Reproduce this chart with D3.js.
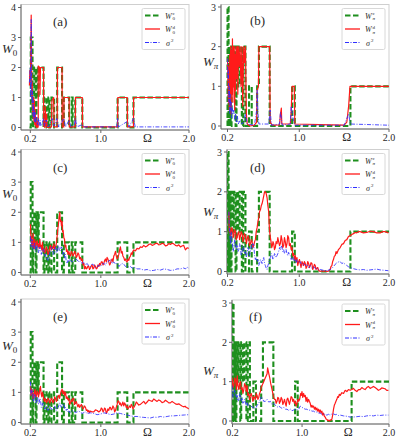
<!DOCTYPE html>
<html>
<head>
<meta charset="utf-8">
<script src="https://cdn.jsdelivr.net/npm/d3@7"></script>
<style>
  body { margin: 0; background: #fff; }
  svg { display: block; }
</style>
</head>
<body>
<div id="canvas"></div>
<script>
// ---- data : [Omega, value] ----
const xTicks = [0.2, 1.0, 2.0];
const xTickLabels = ["0.2", "1.0", "2.0"];
const yTicksLeft = [0, 1, 2, 3, 4];
const yTicksRight = [0, 1, 2, 3];

// W^c (same in every row of a column)
const greenLeft = [[0.19,0],[0.205,0],[0.205,3],[0.225,3],[0.225,0],[0.232,0],[0.232,1],[0.245,1],[0.245,2],[0.26,2],[0.26,0],[0.27,0],[0.27,2],[0.285,2],[0.285,1],[0.295,1],[0.295,2],[0.35,2],[0.35,0],[0.36,0],[0.36,1],[0.385,1],[0.385,0],[0.405,0],[0.405,1],[0.415,1],[0.415,0],[0.44,0],[0.44,1],[0.47,1],[0.47,0],[0.505,0],[0.505,2],[0.56,2],[0.56,0],[0.58,0],[0.58,1],[0.64,1],[0.64,0],[0.67,0],[0.67,1],[0.68,1],[0.68,0],[0.71,0],[0.71,1],[0.79,1],[0.79,0],[1.19,0],[1.19,1],[1.3,1],[1.3,0],[1.37,0],[1.37,1],[2.0,1]];
const greenRight = [[0.2,0],[0.2,3],[0.212,3],[0.212,0],[0.222,0],[0.222,2],[0.235,2],[0.235,0],[0.245,0],[0.245,2],[0.26,2],[0.26,1],[0.27,1],[0.27,2],[0.29,2],[0.29,0],[0.3,0],[0.3,2],[0.32,2],[0.32,1],[0.335,1],[0.335,2],[0.36,2],[0.36,0],[0.375,0],[0.375,2],[0.4,2],[0.4,0],[0.44,0],[0.44,1],[0.47,1],[0.47,0],[0.53,0],[0.53,1],[0.55,1],[0.55,2],[0.67,2],[0.67,0],[0.92,0],[0.92,1],[0.95,1],[0.95,0],[1.57,0],[1.57,1],[2.0,1]];

// (a)
const redA = [[0.19,1.4],[0.195,1.9],[0.2,1.5],[0.205,2.3],[0.21,3.75],[0.215,2.2],[0.218,1.0],[0.222,1.5],[0.226,0.5],[0.23,1.0],[0.234,0.3],[0.238,1.0],[0.242,0.2],[0.246,0.9],[0.25,0.1],[0.255,0.6],[0.26,0.05],[0.265,0.3],[0.27,0.0],[0.28,0.2],[0.285,0.0],[0.29,0.05],[0.29,2.05],[0.305,2.0],[0.31,1.1],[0.315,2.0],[0.35,2.0],[0.352,0.05],[0.365,0.0],[0.37,0.7],[0.375,0.05],[0.385,0.45],[0.39,0.0],[0.44,0.02],[0.445,0.9],[0.465,1.0],[0.47,0.02],[0.505,0.02],[0.508,2.0],[0.56,2.0],[0.562,0.02],[0.58,0.02],[0.582,1.0],[0.64,1.0],[0.642,0.02],[0.71,0.02],[0.712,1.0],[0.79,1.0],[0.792,0.02],[1.19,0.02],[1.192,1.0],[1.3,1.0],[1.302,0.02],[1.37,0.02],[1.372,1.0],[2.0,1.0]];
const blueA = [[0.19,1.5],[0.2,2.0],[0.205,1.0],[0.21,3.6],[0.215,1.5],[0.22,0.8],[0.225,1.2],[0.23,0.4],[0.235,0.9],[0.24,0.3],[0.245,0.6],[0.25,0.2],[0.255,0.5],[0.26,0.15],[0.27,0.35],[0.28,0.1],[0.29,0.3],[0.3,0.05],[0.31,0.25],[0.32,0.05],[0.33,0.1],[0.35,0.3],[0.36,0.05],[0.38,0.25],[0.4,0.02],[0.42,0.1],[0.45,0.3],[0.47,0.05],[0.5,0.3],[0.52,0.02],[0.56,0.2],[0.58,0.3],[0.6,0.02],[0.64,0.25],[0.66,0.02],[0.7,0.1],[0.71,0.3],[0.73,0.02],[0.79,0.1],[0.8,0.02],[1.18,0.02],[1.19,0.3],[1.2,0.02],[1.3,0.2],[1.32,0.02],[1.37,0.3],[1.39,0.02],[2.0,0.02]];

// (b)
const redB = [[0.2,1.7],[0.205,1.2],[0.21,0.6],[0.215,1.5],[0.22,0.4],[0.225,1.8],[0.23,0.5],[0.235,2.0],[0.24,0.3],[0.245,1.9],[0.25,0.8],[0.255,2.2],[0.26,0.6],[0.265,2.0],[0.27,1.0],[0.275,2.0],[0.28,0.4],[0.285,1.8],[0.29,0.9],[0.295,2.0],[0.3,1.2],[0.31,2.0],[0.315,0.8],[0.32,2.0],[0.33,1.5],[0.34,2.0],[0.35,1.0],[0.36,2.0],[0.37,0.5],[0.38,2.0],[0.39,1.6],[0.4,2.0],[0.41,0.3],[0.42,0.05],[0.45,0.0],[0.5,0.02],[0.525,0.1],[0.53,0.9],[0.545,1.0],[0.55,2.0],[0.67,2.0],[0.675,0.1],[0.7,0.02],[0.78,0.03],[0.79,0.3],[0.8,0.45],[0.805,0.05],[0.9,0.05],[0.91,0.4],[0.92,1.0],[0.945,1.0],[0.95,0.05],[1.5,0.02],[1.53,0.1],[1.55,0.5],[1.565,1.0],[2.0,1.0]];
const blueB = [[0.2,1.7],[0.205,1.2],[0.21,1.4],[0.215,0.6],[0.22,1.0],[0.225,0.3],[0.23,0.8],[0.235,0.4],[0.24,0.6],[0.245,0.2],[0.25,0.5],[0.26,0.3],[0.27,0.4],[0.28,0.15],[0.29,0.3],[0.3,0.1],[0.31,0.25],[0.32,0.05],[0.34,0.15],[0.36,0.05],[0.38,0.1],[0.4,0.3],[0.42,0.05],[0.5,0.02],[0.525,0.4],[0.53,0.9],[0.54,0.3],[0.55,0.05],[0.66,0.05],[0.675,0.4],[0.69,0.02],[0.78,0.05],[0.79,0.35],[0.8,0.2],[0.81,0.02],[0.9,0.05],[0.91,0.5],[0.93,0.2],[0.95,0.02],[1.5,0.02],[1.55,0.3],[1.57,0.05],[2.0,0.02]];

// (c)
const redC = [[0.202,1.6],[0.207,1.1],[0.213,1.2],[0.217,0.9],[0.221,1.05],[0.226,0.85],[0.232,1.3],[0.236,0.9],[0.24,0.95],[0.245,0.8],[0.251,1.1],[0.257,0.85],[0.263,0.9],[0.27,1.0],[0.278,1.05],[0.285,0.85],[0.293,0.95],[0.3,0.8],[0.308,1.1],[0.315,0.85],[0.323,0.9],[0.33,0.75],[0.338,1.0],[0.345,0.7],[0.353,0.8],[0.362,0.65],[0.372,0.7],[0.381,0.85],[0.391,0.75],[0.4,0.6],[0.41,0.65],[0.42,0.85],[0.429,0.9],[0.438,0.75],[0.448,0.85],[0.457,0.8],[0.467,0.95],[0.476,0.75],[0.485,0.85],[0.495,0.95],[0.504,1.2],[0.512,1.45],[0.519,1.6],[0.527,1.85],[0.535,2.0],[0.54,1.7],[0.546,1.75],[0.553,1.55],[0.561,1.7],[0.566,1.35],[0.572,1.4],[0.58,1.15],[0.588,1.1],[0.595,0.85],[0.603,0.9],[0.61,0.7],[0.618,0.75],[0.627,0.6],[0.637,0.7],[0.646,0.6],[0.656,0.55],[0.665,0.7],[0.674,0.65],[0.683,0.55],[0.693,0.6],[0.702,0.7],[0.712,0.65],[0.721,0.5],[0.731,0.55],[0.74,0.65],[0.75,0.6],[0.76,0.45],[0.769,0.5],[0.778,0.4],[0.788,0.45],[0.797,0.25],[0.807,0.3],[0.816,0.12],[0.826,0.2],[0.835,0.12],[0.845,0.15],[0.854,0.22],[0.863,0.2],[0.872,0.1],[0.882,0.15],[0.891,0.22],[0.901,0.25],[0.91,0.12],[0.92,0.15],[0.929,0.25],[0.939,0.2],[0.948,0.12],[0.958,0.15],[0.967,0.25],[0.977,0.2],[0.986,0.3],[0.996,0.25],[1.005,0.35],[1.015,0.35],[1.025,0.25],[1.034,0.3],[1.043,0.4],[1.052,0.45],[1.062,0.35],[1.071,0.5],[1.08,0.45],[1.09,0.35],[1.1,0.25],[1.109,0.3],[1.118,0.4],[1.128,0.45],[1.137,0.35],[1.147,0.55],[1.156,0.6],[1.166,0.7],[1.175,0.55],[1.185,0.45],[1.194,0.5],[1.204,0.6],[1.213,0.75],[1.222,0.85],[1.232,0.65],[1.241,0.7],[1.25,0.55],[1.26,0.5],[1.27,0.4],[1.279,0.45],[1.288,0.38],[1.298,0.35],[1.307,0.45],[1.317,0.4],[1.326,0.5],[1.336,0.55],[1.345,0.65],[1.355,0.6],[1.364,0.7],[1.374,0.75],[1.392,0.72],[1.411,0.8],[1.43,0.78],[1.449,0.85],[1.468,0.83],[1.487,0.9],[1.506,0.85],[1.525,0.88],[1.544,0.93],[1.563,0.95],[1.582,0.9],[1.6,0.92],[1.619,0.96],[1.638,0.97],[1.657,0.92],[1.676,0.93],[1.695,0.97],[1.714,0.95],[1.733,0.88],[1.752,0.9],[1.77,0.96],[1.789,0.93],[1.808,0.97],[1.827,0.95],[1.846,0.9],[1.865,0.88],[1.884,0.92],[1.903,0.85],[1.92,0.88],[1.94,0.9],[1.959,0.75],[1.978,0.82],[1.997,0.8]];
const blueC = [[0.202,1.2],[0.207,0.85],[0.213,0.9],[0.219,1.1],[0.225,1.0],[0.232,0.75],[0.24,0.8],[0.247,1.0],[0.255,0.95],[0.262,0.7],[0.27,0.75],[0.278,0.9],[0.285,0.85],[0.292,0.65],[0.3,0.7],[0.308,0.85],[0.315,0.8],[0.325,0.6],[0.334,0.7],[0.343,0.8],[0.353,0.75],[0.362,0.55],[0.372,0.6],[0.381,0.45],[0.391,0.5],[0.4,0.4],[0.41,0.45],[0.42,0.65],[0.429,0.7],[0.438,0.85],[0.448,0.8],[0.457,0.6],[0.467,0.65],[0.476,0.8],[0.485,0.85],[0.495,0.65],[0.504,0.7],[0.513,0.9],[0.523,0.85],[0.532,0.7],[0.542,0.75],[0.551,0.85],[0.561,0.8],[0.57,0.6],[0.58,0.7],[0.59,0.5],[0.599,0.6],[0.608,0.35],[0.618,0.3],[0.627,0.4],[0.637,0.35],[0.646,0.45],[0.656,0.4],[0.674,0.35],[0.693,0.38],[0.712,0.45],[0.731,0.42],[0.75,0.35],[0.769,0.38],[0.788,0.3],[0.807,0.35],[0.826,0.25],[0.845,0.3],[0.863,0.22],[0.882,0.2],[0.901,0.28],[0.92,0.25],[0.939,0.15],[0.958,0.18],[0.977,0.25],[0.996,0.2],[1.015,0.28],[1.034,0.3],[1.052,0.25],[1.071,0.35],[1.09,0.38],[1.109,0.42],[1.128,0.3],[1.147,0.35],[1.166,0.28],[1.185,0.3],[1.204,0.2],[1.222,0.25],[1.241,0.3],[1.26,0.28],[1.279,0.2],[1.298,0.22],[1.317,0.18],[1.336,0.2],[1.355,0.14],[1.374,0.18],[1.411,0.12],[1.449,0.12],[1.487,0.08],[1.525,0.1],[1.563,0.06],[1.6,0.07],[1.638,0.1],[1.676,0.08],[1.714,0.12],[1.752,0.1],[1.789,0.07],[1.827,0.08],[1.865,0.12],[1.903,0.12],[1.94,0.15],[1.96,0.12],[1.978,0.18],[1.997,0.14]];

// (d)
const redD = [[0.215,1.5],[0.22,1.0],[0.226,1.1],[0.233,0.9],[0.241,1.0],[0.248,1.1],[0.256,1.05],[0.263,0.85],[0.27,0.9],[0.28,1.05],[0.289,1.0],[0.298,0.8],[0.307,0.85],[0.316,0.95],[0.326,1.0],[0.335,0.8],[0.344,0.9],[0.353,1.0],[0.363,0.95],[0.372,0.75],[0.381,0.85],[0.39,0.95],[0.4,0.9],[0.41,0.7],[0.419,0.8],[0.428,0.9],[0.437,0.85],[0.446,0.65],[0.456,0.7],[0.465,0.8],[0.474,0.75],[0.483,0.6],[0.493,0.65],[0.502,0.75],[0.511,0.8],[0.52,1.0],[0.53,1.1],[0.539,1.25],[0.548,1.35],[0.557,1.5],[0.567,1.55],[0.576,1.65],[0.585,1.7],[0.595,1.8],[0.604,1.9],[0.613,2.0],[0.622,2.0],[0.632,1.95],[0.641,1.85],[0.65,1.65],[0.659,1.5],[0.664,1.2],[0.67,1.0],[0.678,0.85],[0.685,0.75],[0.693,0.6],[0.7,0.65],[0.707,0.75],[0.715,0.7],[0.724,0.55],[0.733,0.6],[0.742,0.75],[0.752,0.7],[0.761,0.85],[0.77,0.75],[0.78,0.65],[0.789,0.7],[0.798,0.9],[0.807,0.8],[0.816,0.6],[0.826,0.65],[0.835,0.85],[0.844,0.75],[0.853,0.6],[0.863,0.7],[0.872,0.9],[0.881,0.85],[0.89,0.65],[0.9,0.7],[0.91,0.55],[0.919,0.6],[0.928,0.4],[0.937,0.45],[0.946,0.3],[0.956,0.4],[0.965,0.25],[0.974,0.35],[0.983,0.15],[0.993,0.25],[1.002,0.3],[1.011,0.2],[1.02,0.1],[1.03,0.25],[1.039,0.2],[1.048,0.15],[1.057,0.25],[1.067,0.2],[1.076,0.08],[1.085,0.12],[1.094,0.25],[1.104,0.2],[1.113,0.1],[1.122,0.15],[1.131,0.22],[1.141,0.2],[1.15,0.05],[1.159,0.1],[1.169,0.18],[1.178,0.15],[1.187,0.05],[1.196,0.08],[1.205,0.1],[1.215,0.03],[1.233,0.0],[1.252,0.02],[1.27,0.0],[1.289,0.02],[1.307,0.0],[1.326,0.01],[1.344,0.05],[1.353,0.12],[1.363,0.15],[1.372,0.25],[1.381,0.3],[1.39,0.38],[1.4,0.4],[1.41,0.5],[1.419,0.45],[1.437,0.55],[1.456,0.6],[1.474,0.68],[1.493,0.7],[1.511,0.78],[1.53,0.8],[1.548,0.88],[1.567,0.9],[1.585,0.93],[1.604,0.95],[1.623,0.98],[1.641,0.97],[1.66,1.0],[1.678,1.0],[1.715,0.97],[1.752,0.98],[1.789,1.01],[1.826,1.0],[1.863,0.97],[1.9,0.97],[1.93,1.0],[1.956,1.0],[1.993,0.97]];
const blueD = [[0.215,1.5],[0.22,1.1],[0.226,0.9],[0.233,0.7],[0.241,1.0],[0.248,0.75],[0.256,0.7],[0.263,0.5],[0.27,0.6],[0.28,0.8],[0.289,0.75],[0.298,0.55],[0.307,0.65],[0.316,0.5],[0.326,0.55],[0.335,0.7],[0.344,0.6],[0.353,0.4],[0.363,0.5],[0.372,0.65],[0.381,0.6],[0.39,0.45],[0.4,0.5],[0.41,0.35],[0.419,0.45],[0.428,0.6],[0.437,0.55],[0.446,0.4],[0.456,0.5],[0.465,0.65],[0.474,0.6],[0.483,0.7],[0.493,0.65],[0.502,0.4],[0.511,0.3],[0.52,0.35],[0.53,0.25],[0.539,0.3],[0.548,0.15],[0.557,0.2],[0.567,0.3],[0.576,0.25],[0.585,0.2],[0.595,0.3],[0.604,0.35],[0.613,0.2],[0.622,0.15],[0.632,0.08],[0.641,0.05],[0.65,0.15],[0.659,0.2],[0.668,0.3],[0.678,0.35],[0.687,0.45],[0.696,0.4],[0.706,0.3],[0.715,0.35],[0.724,0.45],[0.733,0.42],[0.742,0.35],[0.752,0.4],[0.761,0.45],[0.77,0.5],[0.78,0.6],[0.789,0.55],[0.798,0.65],[0.807,0.6],[0.816,0.5],[0.826,0.55],[0.835,0.45],[0.844,0.5],[0.853,0.55],[0.863,0.45],[0.872,0.4],[0.881,0.48],[0.89,0.42],[0.9,0.4],[0.91,0.3],[0.919,0.35],[0.928,0.3],[0.937,0.35],[0.946,0.25],[0.956,0.28],[0.965,0.22],[0.974,0.3],[0.993,0.22],[1.011,0.25],[1.03,0.15],[1.048,0.2],[1.067,0.15],[1.085,0.18],[1.104,0.1],[1.122,0.15],[1.141,0.08],[1.159,0.12],[1.178,0.08],[1.196,0.08],[1.215,0.04],[1.233,0.05],[1.27,0.03],[1.307,0.02],[1.344,0.05],[1.363,0.08],[1.381,0.12],[1.4,0.18],[1.419,0.22],[1.437,0.24],[1.456,0.25],[1.474,0.2],[1.493,0.22],[1.511,0.18],[1.53,0.15],[1.548,0.12],[1.567,0.1],[1.604,0.07],[1.641,0.05],[1.678,0.04],[1.715,0.05],[1.752,0.03],[1.789,0.04],[1.826,0.05],[1.863,0.06],[1.9,0.04],[1.95,0.03],[1.993,0.02]];

// (e)
const redE = [[0.202,1.2],[0.207,0.9],[0.213,0.95],[0.219,1.1],[0.225,1.0],[0.232,0.8],[0.24,0.85],[0.247,1.0],[0.255,1.1],[0.262,0.85],[0.27,0.9],[0.278,1.05],[0.285,1.0],[0.292,0.85],[0.3,0.95],[0.308,1.1],[0.315,1.2],[0.323,0.95],[0.331,0.85],[0.338,1.0],[0.346,0.9],[0.353,0.75],[0.361,0.7],[0.368,0.8],[0.376,0.75],[0.383,0.65],[0.391,0.7],[0.4,0.8],[0.41,0.75],[0.42,0.65],[0.429,0.7],[0.438,0.8],[0.448,0.75],[0.457,0.65],[0.467,0.7],[0.476,0.85],[0.485,0.8],[0.495,0.7],[0.504,0.75],[0.513,0.85],[0.523,0.9],[0.532,0.8],[0.542,0.95],[0.551,1.05],[0.561,1.1],[0.57,0.95],[0.58,1.05],[0.59,0.9],[0.599,1.0],[0.608,0.8],[0.618,0.85],[0.627,0.75],[0.637,0.8],[0.646,0.6],[0.656,0.65],[0.665,0.75],[0.674,0.7],[0.683,0.8],[0.693,0.8],[0.702,0.6],[0.712,0.65],[0.721,0.7],[0.731,0.6],[0.74,0.52],[0.75,0.6],[0.76,0.5],[0.769,0.55],[0.778,0.6],[0.788,0.55],[0.797,0.45],[0.807,0.5],[0.816,0.55],[0.826,0.5],[0.835,0.4],[0.845,0.42],[0.854,0.35],[0.863,0.4],[0.872,0.33],[0.882,0.38],[0.901,0.35],[0.92,0.35],[0.939,0.42],[0.958,0.4],[0.977,0.35],[0.996,0.4],[1.005,0.48],[1.015,0.45],[1.025,0.35],[1.034,0.4],[1.043,0.48],[1.052,0.45],[1.062,0.3],[1.071,0.35],[1.08,0.45],[1.09,0.4],[1.1,0.5],[1.109,0.5],[1.118,0.42],[1.128,0.45],[1.137,0.55],[1.147,0.5],[1.156,0.35],[1.166,0.4],[1.175,0.5],[1.185,0.6],[1.194,0.72],[1.204,0.7],[1.213,0.6],[1.222,0.65],[1.232,0.55],[1.241,0.6],[1.25,0.68],[1.26,0.55],[1.27,0.65],[1.279,0.6],[1.288,0.5],[1.298,0.55],[1.307,0.45],[1.317,0.5],[1.326,0.55],[1.336,0.5],[1.345,0.6],[1.355,0.55],[1.364,0.45],[1.374,0.5],[1.383,0.55],[1.392,0.6],[1.402,0.68],[1.411,0.65],[1.43,0.58],[1.449,0.6],[1.468,0.65],[1.487,0.7],[1.506,0.62],[1.525,0.68],[1.544,0.75],[1.563,0.72],[1.582,0.7],[1.6,0.78],[1.619,0.74],[1.638,0.7],[1.657,0.75],[1.676,0.72],[1.695,0.66],[1.714,0.68],[1.733,0.74],[1.752,0.7],[1.77,0.65],[1.789,0.65],[1.808,0.7],[1.827,0.66],[1.846,0.62],[1.865,0.6],[1.884,0.62],[1.903,0.58],[1.92,0.55],[1.94,0.52],[1.955,0.54],[1.97,0.5],[1.985,0.48],[1.997,0.45]];
const blueE = [[0.202,1.35],[0.207,0.9],[0.213,0.95],[0.219,1.1],[0.225,1.05],[0.232,0.7],[0.24,0.75],[0.247,0.95],[0.255,0.9],[0.262,0.65],[0.27,0.7],[0.278,0.85],[0.285,0.8],[0.292,0.6],[0.3,0.65],[0.308,0.8],[0.315,0.75],[0.325,0.5],[0.334,0.55],[0.343,0.65],[0.353,0.6],[0.362,0.45],[0.372,0.45],[0.381,0.55],[0.391,0.5],[0.4,0.4],[0.41,0.45],[0.42,0.55],[0.429,0.5],[0.448,0.42],[0.467,0.45],[0.476,0.55],[0.485,0.5],[0.495,0.4],[0.504,0.45],[0.513,0.5],[0.523,0.55],[0.532,0.65],[0.542,0.6],[0.551,0.5],[0.561,0.55],[0.57,0.62],[0.58,0.6],[0.59,0.45],[0.599,0.5],[0.608,0.4],[0.618,0.45],[0.627,0.35],[0.637,0.4],[0.646,0.32],[0.656,0.35],[0.674,0.4],[0.693,0.37],[0.712,0.33],[0.731,0.35],[0.75,0.38],[0.769,0.34],[0.788,0.3],[0.807,0.33],[0.826,0.35],[0.845,0.3],[0.882,0.32],[0.92,0.3],[0.958,0.26],[0.996,0.28],[1.034,0.32],[1.071,0.3],[1.109,0.26],[1.147,0.28],[1.185,0.32],[1.222,0.3],[1.26,0.27],[1.298,0.25],[1.336,0.22],[1.374,0.2],[1.411,0.2],[1.449,0.18],[1.487,0.17],[1.525,0.16],[1.563,0.15],[1.6,0.18],[1.638,0.17],[1.676,0.2],[1.714,0.18],[1.752,0.2],[1.789,0.22],[1.827,0.22],[1.865,0.23],[1.903,0.24],[1.95,0.25],[1.997,0.26]];

// (f)
const redF = [[0.196,1.1],[0.205,0.85],[0.215,0.9],[0.225,1.1],[0.235,1.05],[0.245,0.8],[0.254,1.15],[0.263,0.9],[0.273,0.8],[0.282,0.95],[0.292,1.0],[0.301,0.8],[0.311,0.85],[0.32,0.7],[0.33,0.8],[0.339,0.95],[0.349,0.9],[0.358,0.75],[0.368,0.9],[0.377,0.65],[0.387,0.7],[0.396,0.55],[0.406,0.65],[0.416,0.7],[0.426,0.6],[0.435,0.5],[0.445,0.62],[0.454,0.6],[0.464,0.55],[0.473,0.7],[0.483,0.65],[0.492,0.55],[0.502,0.6],[0.511,0.7],[0.521,0.75],[0.53,0.85],[0.54,0.9],[0.549,0.95],[0.559,1.0],[0.568,1.05],[0.578,1.1],[0.588,1.15],[0.598,1.2],[0.604,1.35],[0.609,1.3],[0.618,1.2],[0.628,1.1],[0.64,0.95],[0.655,0.8],[0.664,0.7],[0.674,0.6],[0.683,0.55],[0.693,0.55],[0.702,0.45],[0.712,0.5],[0.721,0.6],[0.731,0.58],[0.74,0.45],[0.75,0.5],[0.76,0.6],[0.77,0.55],[0.779,0.42],[0.789,0.48],[0.798,0.55],[0.808,0.45],[0.817,0.38],[0.827,0.55],[0.836,0.58],[0.846,0.5],[0.855,0.42],[0.865,0.52],[0.874,0.62],[0.884,0.6],[0.893,0.5],[0.903,0.55],[0.912,0.45],[0.922,0.5],[0.932,0.38],[0.942,0.45],[0.951,0.55],[0.961,0.5],[0.972,0.55],[0.985,0.7],[0.992,0.65],[0.999,0.75],[1.008,0.6],[1.018,0.7],[1.027,0.62],[1.037,0.65],[1.046,0.5],[1.056,0.6],[1.065,0.48],[1.075,0.55],[1.084,0.5],[1.094,0.45],[1.104,0.35],[1.114,0.4],[1.123,0.35],[1.133,0.38],[1.142,0.3],[1.152,0.35],[1.161,0.28],[1.171,0.33],[1.18,0.25],[1.19,0.3],[1.2,0.22],[1.209,0.28],[1.219,0.2],[1.228,0.25],[1.238,0.15],[1.247,0.2],[1.257,0.12],[1.266,0.1],[1.276,0.05],[1.286,0.04],[1.295,0.01],[1.305,0.02],[1.314,0.0],[1.324,0.03],[1.333,0.02],[1.343,0.05],[1.352,0.15],[1.362,0.3],[1.371,0.4],[1.381,0.45],[1.39,0.5],[1.4,0.55],[1.41,0.62],[1.419,0.6],[1.429,0.68],[1.439,0.65],[1.458,0.72],[1.477,0.7],[1.496,0.78],[1.515,0.75],[1.534,0.8],[1.553,0.78],[1.572,0.8],[1.591,0.83],[1.61,0.78],[1.63,0.75],[1.649,0.8],[1.668,0.8],[1.687,0.85],[1.706,0.82],[1.725,0.8],[1.744,0.85],[1.763,0.88],[1.783,0.83],[1.802,0.85],[1.821,0.88],[1.84,0.85],[1.859,0.82],[1.878,0.78],[1.897,0.8],[1.916,0.84],[1.936,0.83],[1.955,0.82],[1.974,0.78],[1.993,0.78]];
const blueF = [[0.196,0.9],[0.205,0.6],[0.215,0.65],[0.225,0.8],[0.234,0.75],[0.245,0.55],[0.254,0.65],[0.263,0.5],[0.273,0.55],[0.282,0.7],[0.292,0.6],[0.301,0.5],[0.311,0.6],[0.32,0.45],[0.33,0.5],[0.339,0.55],[0.349,0.45],[0.358,0.4],[0.368,0.48],[0.377,0.38],[0.387,0.42],[0.406,0.4],[0.426,0.35],[0.445,0.35],[0.464,0.3],[0.483,0.4],[0.502,0.45],[0.511,0.5],[0.521,0.55],[0.53,0.62],[0.54,0.6],[0.559,0.5],[0.578,0.5],[0.598,0.55],[0.617,0.48],[0.636,0.5],[0.655,0.42],[0.674,0.45],[0.693,0.4],[0.712,0.35],[0.731,0.38],[0.75,0.35],[0.77,0.32],[0.789,0.35],[0.808,0.3],[0.827,0.3],[0.846,0.27],[0.865,0.3],[0.884,0.26],[0.903,0.28],[0.922,0.3],[0.942,0.28],[0.961,0.3],[0.98,0.38],[0.999,0.35],[1.018,0.32],[1.037,0.3],[1.056,0.3],[1.075,0.27],[1.094,0.28],[1.114,0.25],[1.133,0.25],[1.152,0.22],[1.171,0.23],[1.19,0.2],[1.209,0.2],[1.228,0.17],[1.247,0.18],[1.266,0.16],[1.286,0.15],[1.305,0.17],[1.324,0.15],[1.343,0.18],[1.362,0.18],[1.381,0.16],[1.4,0.17],[1.419,0.14],[1.439,0.15],[1.477,0.13],[1.515,0.12],[1.553,0.1],[1.591,0.1],[1.63,0.11],[1.668,0.12],[1.706,0.11],[1.744,0.13],[1.783,0.14],[1.821,0.13],[1.859,0.15],[1.897,0.14],[1.936,0.15],[1.993,0.15]];

// ---- layout (pixel placement of each panel) ----
const panels = [
  {tag:"(a)", sub:"0", x0:21,  x1:189, xdom:[0.1,2.0],   top:4.5, bot:130, y0:127.5, yt:7.5, ymax:4, green:greenLeft,  red:redA, blue:blueA, ylab:[2,53],   tagPos:[53,26]},
  {tag:"(b)", sub:"π", x0:221, x1:389, xdom:[0.133,2.0], top:4.5, bot:129, y0:126,   yt:7,   ymax:3, green:greenRight, red:redB, blue:blueB, ylab:[203,66], tagPos:[250,25]},
  {tag:"(c)", sub:"0", x0:21,  x1:189, xdom:[0.1,2.0],   top:149.5, bot:275, y0:272.5, yt:152, ymax:4, green:greenLeft,  red:redC, blue:blueC, ylab:[2,198], tagPos:[53,172]},
  {tag:"(d)", sub:"π", x0:227, x1:389, xdom:[0.2,2.0],   top:149.5, bot:274, y0:271.5, yt:152, ymax:3, green:greenRight, red:redD, blue:blueD, ylab:[203,216], tagPos:[250,172]},
  {tag:"(e)", sub:"0", x0:21,  x1:189, xdom:[0.1,2.0],   top:299, bot:424, y0:422.5, yt:302, ymax:4, green:greenLeft,  red:redE, blue:blueE, ylab:[2,350], tagPos:[53,321]},
  {tag:"(f)", sub:"π", x0:232, x1:389, xdom:[0.2,2.0],   top:300, bot:424, y0:421,   yt:303, ymax:3, green:greenRight, red:redF, blue:blueF, ylab:[203,375], tagPos:[249,321]}
];

const SERIF = "'Liberation Serif', 'DejaVu Serif', serif";
const W = 399, H = 442;
const svg = d3.select("#canvas").append("svg").attr("width", W).attr("height", H)
  .attr("font-family", SERIF);
const defs = svg.append("defs");

function txt(sel, x, y, size){
  return sel.append("text").attr("x", x).attr("y", y)
    .attr("font-family", SERIF).attr("font-size", size).attr("fill", "#2a2a2a");
}

panels.forEach(function(p, i){
  const x = d3.scaleLinear().domain(p.xdom).range([p.x0 + 0.5, p.x1]);
  const yTicks = p.ymax === 4 ? yTicksLeft : yTicksRight;
  const y = d3.scaleLinear().domain([0, p.ymax]).range([p.y0, p.yt]);

  defs.append("clipPath").attr("id", "clip" + i)
    .append("rect").attr("x", p.x0).attr("y", p.top).attr("width", p.x1 - p.x0).attr("height", p.bot - p.top);

  const g = svg.append("g");

  // frame: light top/right, darker left/bottom
  g.append("rect").attr("x", p.x0).attr("y", p.top).attr("width", p.x1 - p.x0).attr("height", p.bot - p.top)
    .attr("fill", "none").attr("stroke", "#cfcfcf").attr("stroke-width", 1);
  g.append("line").attr("x1", p.x0).attr("x2", p.x0).attr("y1", p.top).attr("y2", p.bot).attr("stroke", "#666");
  g.append("line").attr("x1", p.x0).attr("x2", p.x1).attr("y1", p.bot).attr("y2", p.bot).attr("stroke", "#666");

  // ticks
  yTicks.forEach(function(t){
    g.append("line").attr("x1", p.x0 - 3).attr("x2", p.x0).attr("y1", y(t)).attr("y2", y(t)).attr("stroke", "#666");
    txt(g, p.x0 - 5, y(t) + 3.5, 10).attr("text-anchor", "end").text(t);
  });
  xTicks.forEach(function(t, j){
    g.append("line").attr("x1", x(t)).attr("x2", x(t)).attr("y1", p.bot).attr("y2", p.bot + 3).attr("stroke", "#666");
    txt(g, x(t), p.bot + 12, 10).attr("text-anchor", "middle").text(xTickLabels[j]);
  });
  txt(g, x(1.53), p.bot + 12, 12).attr("text-anchor", "middle").text("Ω");

  // y label
  const yl = txt(g, p.ylab[0], p.ylab[1], 13);
  yl.append("tspan").attr("font-style", "italic").text("W");
  yl.append("tspan").attr("dy", 3).attr("font-size", 9).attr("font-style", p.sub === "π" ? "italic" : "normal").text(p.sub);

  // panel tag
  txt(g, p.tagPos[0], p.tagPos[1], 13).text(p.tag);

  // curves
  const line = d3.line().x(function(d){ return x(d[0]); }).y(function(d){ return y(d[1]); });
  const plot = g.append("g").attr("clip-path", "url(#clip" + i + ")");
  plot.append("path").datum(p.green).attr("d", line).attr("fill", "none")
    .attr("stroke", "#1e8f1e").attr("stroke-width", 2.1).attr("stroke-dasharray", "5.5,2.5");
  plot.append("path").datum(p.red).attr("d", line).attr("fill", "none")
    .attr("stroke", "#ff1a1a").attr("stroke-width", 1.2).attr("stroke-linejoin", "round");
  plot.append("path").datum(p.blue).attr("d", line).attr("fill", "none")
    .attr("stroke", "#2f2fff").attr("stroke-opacity", 0.85).attr("stroke-width", 1).attr("stroke-dasharray", "4,1.5,1,1.5");

  // legend
  const lx = p.x1 - 47, ly = p.top + 4;
  const lg = g.append("g");
  lg.append("rect").attr("x", lx).attr("y", ly).attr("width", 43).attr("height", 41)
    .attr("fill", "#fff").attr("fill-opacity", 0.85).attr("stroke", "#d8d8d8").attr("rx", 1.5);
  const rows = [
    {stroke:"#1e8f1e", w:2.1, dash:"5.5,2.5", sup:"c"},
    {stroke:"#ff1a1a", w:1.3, dash:null, sup:"d"},
    {stroke:"#2f2fff", w:1, dash:"4,1.5,1,1.5", sup:null}
  ];
  rows.forEach(function(r, k){
    const yy = ly + 7 + k * 13.5;
    lg.append("line").attr("x1", lx + 3).attr("x2", lx + 18).attr("y1", yy).attr("y2", yy)
      .attr("stroke", r.stroke).attr("stroke-width", r.w).attr("stroke-dasharray", r.dash);
    if (r.sup) {
      txt(lg, lx + 23, yy + 3, 8).attr("font-style", "italic").text("W");
      txt(lg, lx + 30.5, yy - 0.5, 5).text(r.sup);
      txt(lg, lx + 30.5, yy + 4.5, 5).attr("font-style", p.sub === "π" ? "italic" : "normal").text(p.sub);
    } else {
      txt(lg, lx + 24, yy + 3, 8).attr("font-style", "italic").text("σ");
      txt(lg, lx + 29, yy - 0.5, 5).text("2");
    }
  });
});
</script>
</body>
</html>
